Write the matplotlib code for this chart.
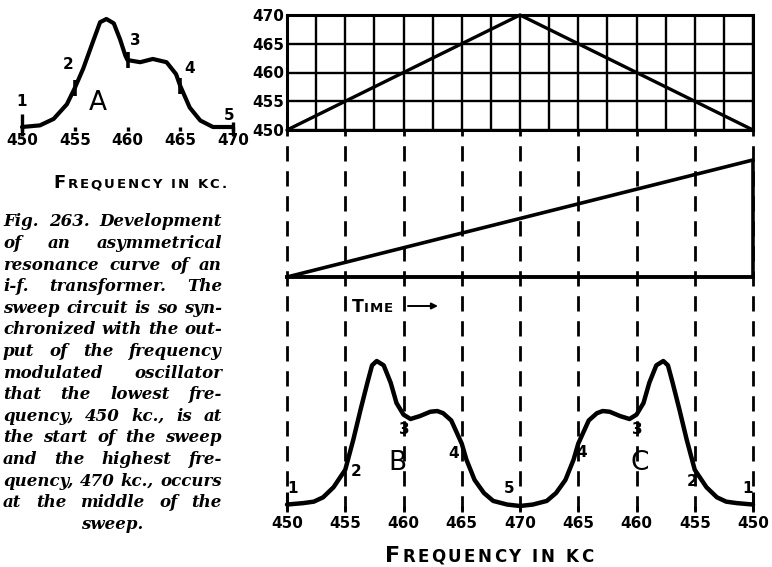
import numpy as np
import matplotlib
matplotlib.use('Agg')
import matplotlib.pyplot as plt
from matplotlib.transforms import IdentityTransform

W, H = 772, 567

# ---- valores ----
# curva A (canto superior esquerdo)
freq_a = [450, 451.7, 453, 454.25, 455, 455.8, 456.8, 457.4, 458, 458.7, 459.3,
          459.8, 460, 461.2, 462.4, 463.7, 464.6, 465, 465.9, 466.9, 468.1, 470]
resp_a = [0, 0.015, 0.075, 0.21, 0.36, 0.54, 0.81, 0.97, 1.0, 0.96, 0.81,
          0.66, 0.62, 0.60, 0.63, 0.60, 0.49, 0.38, 0.18, 0.06, 0.0, 0.0]
marks_a = [455, 460, 465]
tick_freqs_a = [450, 455, 460, 465, 470]

# curva B (C = B espelhada pela varredura de volta)
freq_b = [450, 451.4, 452.3, 453.1, 454, 455, 455.7, 456.3, 456.9, 457.3,
          457.7, 458.3, 458.9, 459.4, 460, 460.6, 461.4, 462.3, 462.9, 463.4,
          464.1, 465, 465.4, 466.1, 466.9, 467.7, 468.9, 470]
resp_b = [0.01, 0.02, 0.03, 0.06, 0.13, 0.25, 0.46, 0.66, 0.85, 0.97,
          1.0, 0.97, 0.85, 0.71, 0.63, 0.60, 0.62, 0.65, 0.655, 0.64,
          0.59, 0.43, 0.32, 0.18, 0.09, 0.035, 0.01, 0.0]

# varredura de frequencia (tempo em kc de varredura, 0..40)
sweep_time = [0, 20, 40]
sweep_freq = [450, 470, 450]
sweep_ticks = [0, 5, 10, 15, 20, 25, 30, 35, 40]
sweep_labels = ['450', '455', '460', '465', '470', '465', '460', '455', '450']
freq_ylabels = [450, 455, 460, 465, 470]

# dente de serra (base de tempo)
ramp_time = [0, 40]
ramp_level = [0, 1]

caption = [
    "Fig. 263. Development",
    "of an asymmetrical",
    "resonance curve of an",
    "i-f. transformer. The",
    "sweep circuit is so syn-",
    "chronized with the out-",
    "put of the frequency",
    "modulated oscillator",
    "that the lowest fre-",
    "quency, 450 kc., is at",
    "the start of the sweep",
    "and the highest fre-",
    "quency, 470 kc., occurs",
    "at the middle of the",
    "sweep.",
]

fig = plt.figure(figsize=(W / 100, H / 100), dpi=100, facecolor='white')
rend = fig.canvas.get_renderer()
LBL = dict(fontweight='bold', family='DejaVu Sans', color='black')

X0, X1 = 287, 753            # borda esquerda/direita da varredura (px)
PADPX = 12
PAD = PADPX * 40 / (X1 - X0)  # margem em unidades de varredura


def add_ax(l, t, r, b):
    a = fig.add_axes([l / W, 1 - b / H, (r - l) / W, (b - t) / H])
    a.set_facecolor('none')
    return a


def sweep_ax(t, b):
    # eixo um pouco mais largo para que as linhas em 0 e 40 nao sejam cortadas
    a = add_ax(X0 - PADPX, t, X1 + PADPX, b)
    a.set_xlim(-PAD, 40 + PAD)
    return a


def small_caps(text, x, y, big, small, track):
    # primeira letra grande, resto em versalete; x,y em pixels (y de cima)
    pieces = []
    for i, ch in enumerate(text):
        if ch == ' ':
            pieces.append((None, small * 0.55))
            continue
        t = fig.text(0, 0, ch, fontsize=big if i == 0 else small,
                     transform=IdentityTransform(), va='baseline', ha='left', **LBL)
        pieces.append((t, t.get_window_extent(rend).width))
    total = sum(w for _, w in pieces) + track * (len(pieces) - 1)
    x0 = x - total / 2
    for t, w in pieces:
        if t is not None:
            t.set_position((x0, H - y))
        x0 += w + track


# ── linhas tracejadas verticais (atras de tudo) ──
ax_d = sweep_ax(131, 511)
ax_d.set_ylim(0, 1)
ax_d.vlines(sweep_ticks, 0, 1, colors='black', lw=2.0,
            linestyles=[(0, (5.5, 3.5))])
ax_d.axis('off')

# ── grade da varredura (topo direita) ──
ax_s = add_ax(X0, 15, X1, 130)
ax_s.set_xlim(0, 40)
ax_s.set_ylim(450, 470)
ax_s.set_xticks(np.arange(0, 40.1, 2.5))
ax_s.set_yticks(freq_ylabels)
ax_s.grid(True, color='black', lw=1.7)
ax_s.tick_params(length=0, labelbottom=False, pad=2, labelsize=11)
for lab in ax_s.get_yticklabels():
    lab.set_fontweight('bold')
for sp in ax_s.spines.values():
    sp.set_linewidth(2.2)
ax_s.plot(sweep_time, sweep_freq, color='black', lw=2.4, clip_on=False,
          solid_capstyle='round')

# ── dente de serra (meio) ──
ax_t = sweep_ax(130, 277)
ax_t.set_ylim(0, 1.256)
ax_t.plot(ramp_time, ramp_level, color='black', lw=2.6, clip_on=False,
          solid_capstyle='round')
# retorno do dente de serra
ax_t.vlines(ramp_time[-1], 0, ramp_level[-1], colors='black', lw=2.6)
for s in ['top', 'left', 'right']:
    ax_t.spines[s].set_visible(False)
ax_t.spines['bottom'].set_linewidth(2.8)
ax_t.spines['bottom'].set_bounds(0, 40)
ax_t.set_xticks([])
ax_t.set_yticks([])

# ── curvas B e C (baixo) ──
ax_r = sweep_ax(340, 506)
ax_r.set_ylim(0, 166 / 145)
x_up = [f - 450 for f in freq_b]
x_down = [40 - (f - 450) for f in freq_b[::-1]]
ax_r.plot(x_up + x_down, resp_b + resp_b[::-1], color='black', lw=3.2,
          clip_on=False, solid_joinstyle='round', solid_capstyle='round')
ax_r.vlines([x_up[0], x_down[-1]], 0, 0.1, colors='black', lw=2.2)
ax_r.set_yticks([])
ax_r.set_xticks(sweep_ticks, sweep_labels)
ax_r.tick_params(axis='x', length=4, width=2, pad=3, labelsize=11)
for lab in ax_r.get_xticklabels():
    lab.set_fontweight('bold')
for sp in ax_r.spines.values():
    sp.set_visible(False)

num_kw = dict(fontsize=11, ha='center', va='center', **LBL)
for s, x, y in [('1', 0.45, 0.12), ('2', 5.9, 0.24), ('3', 10.1, 0.53),
                ('4', 14.3, 0.36), ('5', 19.1, 0.12), ('4', 25.3, 0.37),
                ('3', 30.1, 0.53), ('2', 34.8, 0.17), ('1', 39.5, 0.12)]:
    ax_r.text(x, y, s, **num_kw)
ax_r.text(9.5, 0.30, 'B', fontsize=19, ha='center', va='center', color='black')
ax_r.text(30.3, 0.30, 'C', fontsize=19, ha='center', va='center', color='black')

# ── curva A (topo esquerda) ──
ax_a = add_ax(22, 12, 233, 127)
ax_a.set_xlim(450, 470)
ax_a.set_ylim(0, 115 / 108)
ax_a.plot(freq_a, resp_a, color='black', lw=3.0, clip_on=False,
          solid_joinstyle='round', solid_capstyle='round')
idx = [freq_a.index(f) for f in marks_a]
ax_a.plot([freq_a[i] for i in idx], [resp_a[i] for i in idx], ls='none',
          marker='|', ms=11, mew=2.6, color='black')
ax_a.vlines([freq_a[0], freq_a[-1]], -0.08, [0.12, 0.05], colors='black',
            lw=2.4, clip_on=False)
ax_a.set_yticks([])
ax_a.set_xticks(tick_freqs_a)
ax_a.tick_params(axis='x', length=3, width=2.4, pad=1, labelsize=11)
for lab in ax_a.get_xticklabels():
    lab.set_fontweight('bold')
for sp in ax_a.spines.values():
    sp.set_visible(False)
for s, x, y in [('1', 450, 0.24), ('2', 454.4, 0.58), ('3', 460.7, 0.80),
                ('4', 465.9, 0.54), ('5', 469.6, 0.11)]:
    ax_a.text(x, y, s, **num_kw)
ax_a.text(457.2, 0.22, 'A', fontsize=19, ha='center', va='center', color='black')

# ── rotulos em versalete ──
small_caps('FREQUENCY IN KC.', 140, 188, 13, 9.5, 1.9)
small_caps('FREQUENCY IN KC', 489, 562, 16, 12, 2.4)
small_caps('TIME', 372, 312, 12.5, 9.5, 0.6)
ax_d.annotate('', xy=(438, H - 306), xytext=(408, H - 306),
              xycoords='figure pixels', textcoords='figure pixels',
              arrowprops=dict(arrowstyle='-|>', lw=1.4, color='black',
                              mutation_scale=9, shrinkA=0, shrinkB=0))

# ── legenda justificada ──
CAP = dict(family='DejaVu Serif', style='italic', fontweight='bold',
           fontsize=12, color='black')
x_l, x_r, y0, dy = 3, 222, 222, 21.6
for i, line in enumerate(caption):
    y = H - (y0 + i * dy)
    words = line.split()
    arts = [fig.text(0, 0, w, transform=IdentityTransform(), va='center',
                     ha='left', **CAP) for w in words]
    widths = [a.get_window_extent(rend).width for a in arts]
    if i == len(caption) - 1:
        x = (x_l + x_r) / 2 - sum(widths) / 2
        gap = 0
    else:
        gap = (x_r - x_l - sum(widths)) / max(len(words) - 1, 1)
        x = x_l
    for a, w in zip(arts, widths):
        a.set_position((x, y))
        x += w + gap

fig.savefig('out.png', dpi=100, facecolor='white')
